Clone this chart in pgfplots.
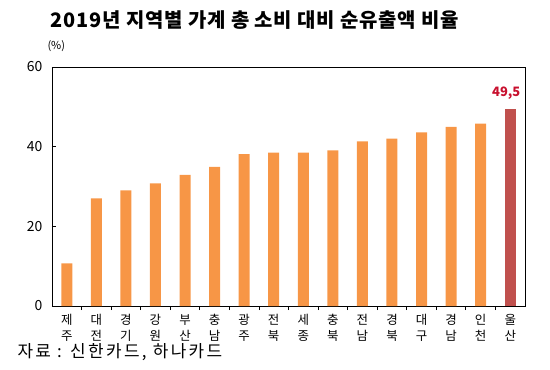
\documentclass[border=0pt]{standalone}
\usepackage{fontspec}
\setmainfont{Noto Sans CJK KR}
\usepackage{pgfplots}
\pgfplotsset{compat=1.18}
\definecolor{barorange}{HTML}{F79646}
\definecolor{barred}{HTML}{C0504D}
\definecolor{lblred}{HTML}{C8102E}
\begin{document}
\begin{tikzpicture}[x=1bp,y=1bp]
\useasboundingbox (-52,-63) rectangle (498,306);
\begin{axis}[
  at={(0,0)}, anchor=south west,
  scale only axis, width=473bp, height=239bp,
  xmin=-0.5, xmax=15.5, ymin=0, ymax=60,
  ytick={0,20,40,60},
  xtick={0,...,15},
  xticklabels={{제\\주},{대\\전},{경\\기},{강\\원},{부\\산},{충\\남},{광\\주},{전\\북},{세\\종},{충\\북},{전\\남},{경\\북},{대\\구},{경\\남},{인\\천},{울\\산}},
  minor x tick num=1,
  major x tick style={draw=none},
  tick align=inside,
  major tick length=4bp, minor tick length=4bp,
  xtick pos=bottom, ytick pos=left,
  axis line style={line width=1pt},
  tick style={line width=0.8pt, black},
  xticklabel style={align=center, font=\fontsize{12.5}{16}\selectfont, yshift=-1bp},
  yticklabel style={font=\fontsize{14}{16}\selectfont, xshift=-6bp},
  /pgf/number format/assume math mode=true,
  ybar, bar width=11bp, bar shift=0pt,
  clip=false,
]
\addplot[fill=barorange, draw=none] coordinates {
 (0,10.7) (1,27.0) (2,29.0) (3,30.8) (4,32.9) (5,34.9) (6,38.1) (7,38.5)
 (8,38.5) (9,39.1) (10,41.3) (11,42.0) (12,43.6) (13,45.0) (14,45.8)};
\addplot[fill=barred, draw=none,
  nodes near coords={49,5},
  nodes near coords style={font=\fontsize{13}{15}\selectfont\bfseries, text=lblred, anchor=south, yshift=6bp, xshift=-4bp}]
  coordinates {(15,49.5)};
\end{axis}
\node[font=\fontsize{20}{22}\selectfont\bfseries\addfontfeature{LetterSpace=4}] at (203,286) {2019년 지역별 가계 총 소비 대비 순유출액 비율};
\node[font=\fontsize{11}{13}\selectfont, anchor=west] at (-8,260) {(\%)};
\node[font=\fontsize{17}{19}\selectfont\addfontfeature{LetterSpace=14}, anchor=west] at (-38,-46) {자료 : 신한카드, 하나카드};
\end{tikzpicture}
\end{document}
